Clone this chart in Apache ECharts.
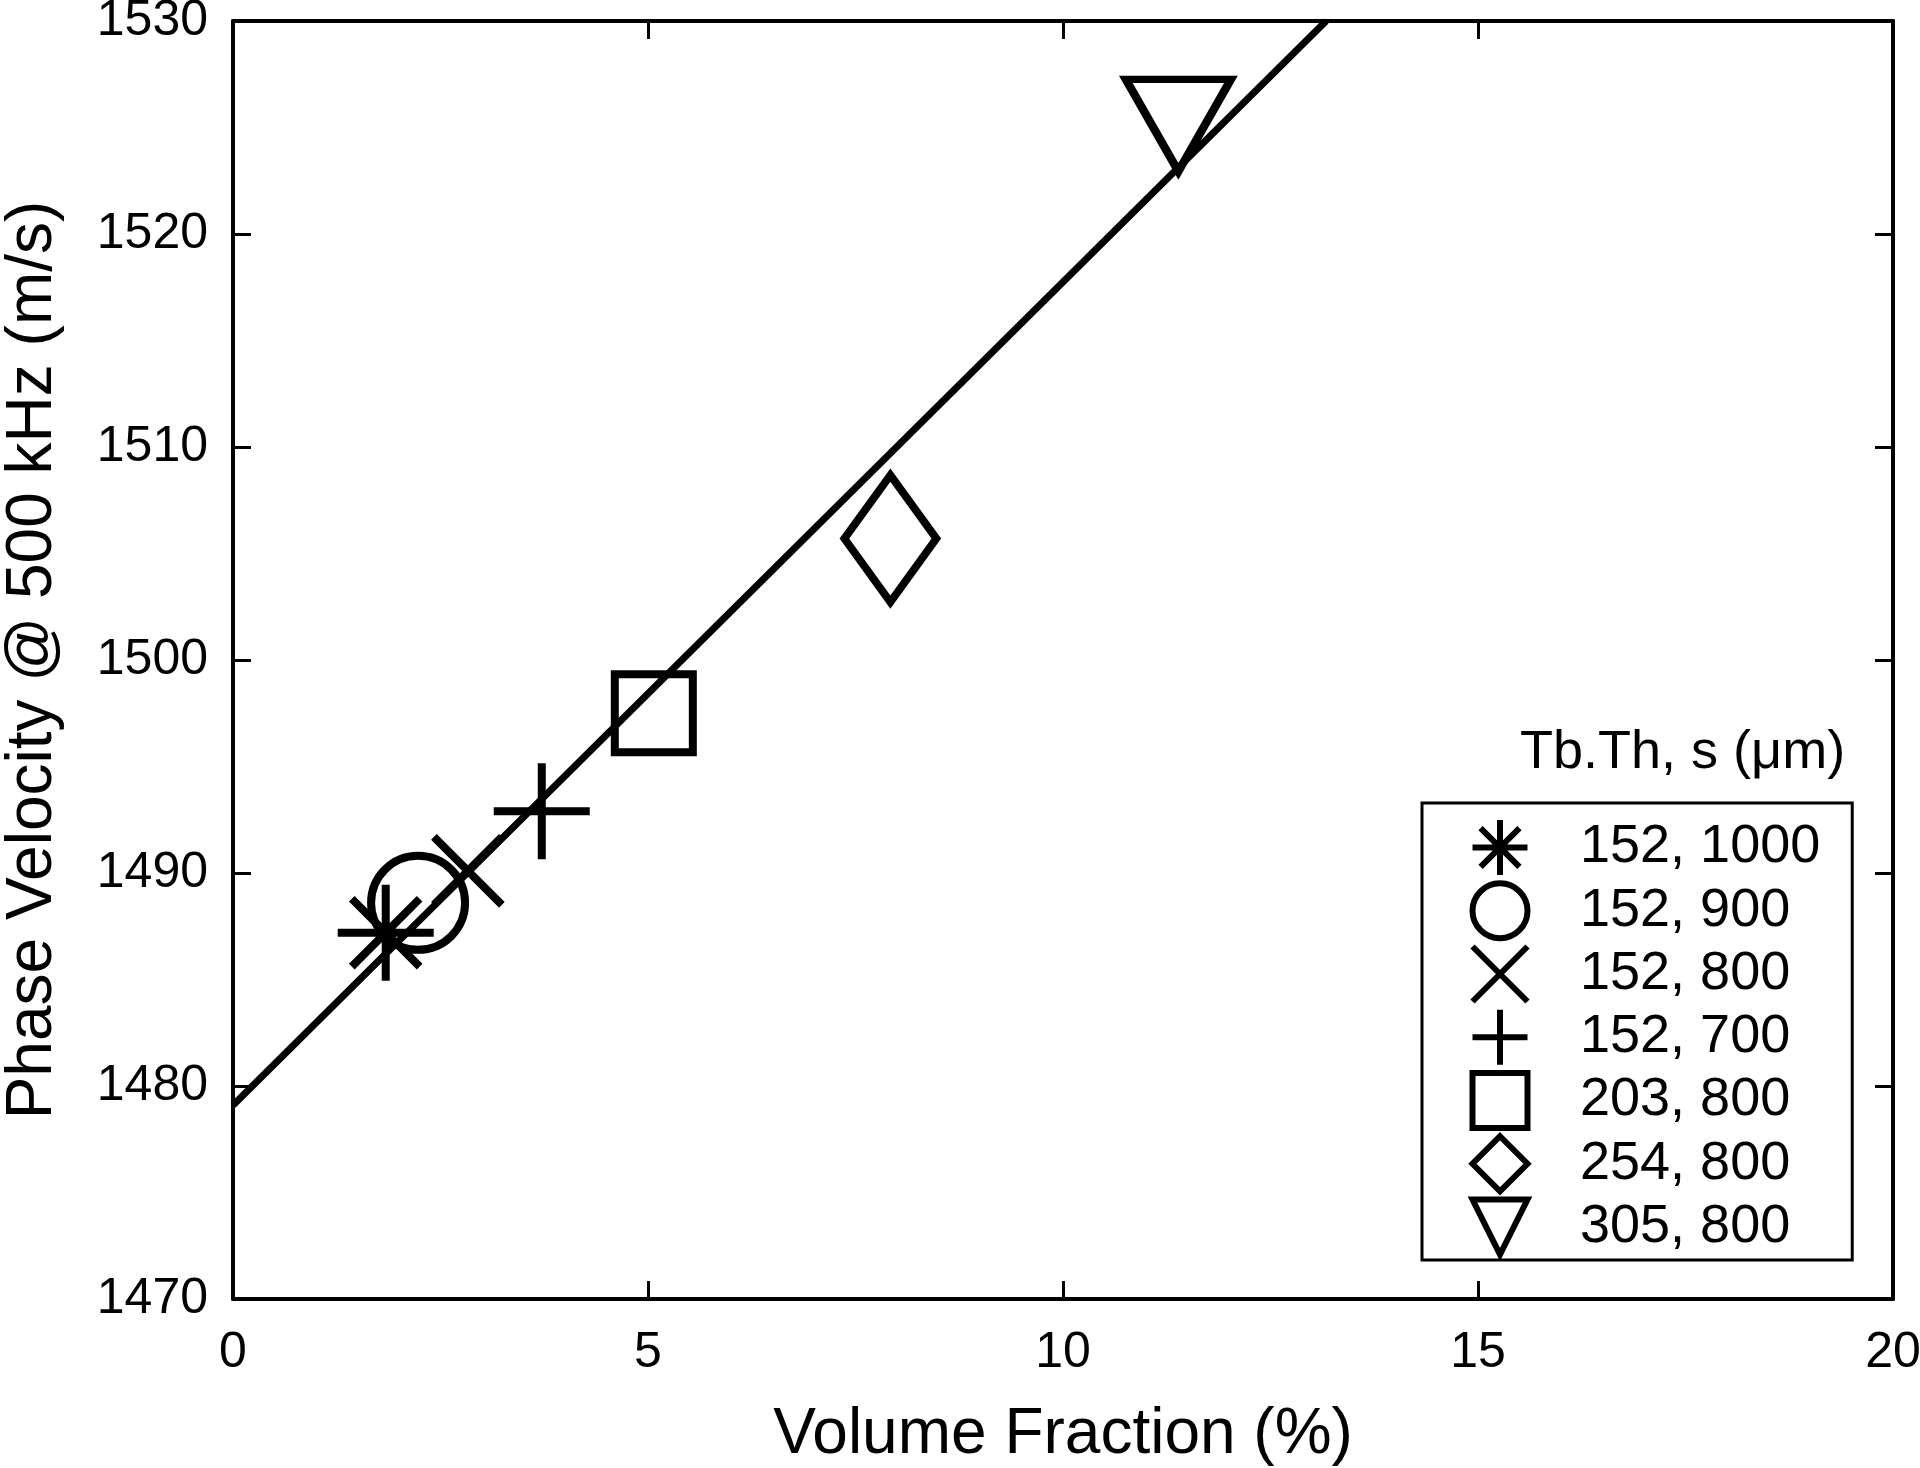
<!DOCTYPE html>
<html><head><meta charset="utf-8">
<script src="https://cdn.jsdelivr.net/npm/echarts@6/dist/echarts.min.js"></script>
<style>html,body{margin:0;padding:0;background:#fff}#c{width:1920px;height:1468px}</style>
</head><body><div id="c"></div>
<script>
// ---- data ----
const seriesNames = ['152, 1000', '152, 900', '152, 800', '152, 700', '203, 800', '254, 800', '305, 800'];
const volumeFraction = [1.84, 2.23, 2.83, 3.72, 5.07, 7.92, 11.39];
const phaseVelocity = [1487.2, 1488.6, 1490.1, 1492.9, 1497.5, 1505.7, 1525.1];
const fitX = [0, 13.17];
const fitY = [1479.1, 1530];
const xTicks = [0, 5, 10, 15, 20];
const yTicks = [1470, 1480, 1490, 1500, 1510, 1520, 1530];
const legendTitle = 'Tb.Th, s (\u03bcm)';
const xTitle = 'Volume Fraction (%)';
const yTitle = 'Phase Velocity @ 500 kHz (m/s)';

// ---- marker styles ----
const symbols = [
  'path://M0,-10L0,10M-10,0L10,0M-7.07,-7.07L7.07,7.07M-7.07,7.07L7.07,-7.07',
  'path://M10,0A10,10,0,1,1,10,20A10,10,0,1,1,10,0Z',
  'path://M-10,-10L10,10M-10,10L10,-10',
  'path://M0,-10L0,10M-10,0L10,0',
  'path://M0,0L20,0L20,20L0,20Z',
  'path://M10,0L20,10L10,20L0,10Z',
  'path://M0,0L20,0L10,20Z'
];
const symbolSizes = [96, 94, 68, 96, 78, [92, 127], [105, 92]];

const FONT = 'Liberation Sans, Arial, Helvetica, sans-serif';
const chart = echarts.init(document.getElementById('c'), null, {renderer: 'canvas'});

const scatterSeries = seriesNames.map((name, i) => ({
  name: name,
  type: 'scatter',
  xAxisIndex: 0, yAxisIndex: 0,
  data: [[volumeFraction[i], phaseVelocity[i]]],
  symbol: symbols[i],
  symbolSize: symbolSizes[i],
  symbolKeepAspect: false,
  itemStyle: {color: 'rgba(0,0,0,0)', borderColor: '#000', borderWidth: 8, opacity: 1},
  emphasis: {disabled: true},
  z: 3
}));

const axisCommon = {
  type: 'value',
  axisLine: {show: true, onZero: false, lineStyle: {color: '#000', width: 4}},
  axisTick: {show: true, inside: true, length: 18, lineStyle: {color: '#000', width: 3}},
  splitLine: {show: false}
};
const plain = v => String(v);

chart.setOption({
  animation: false,
  backgroundColor: '#fff',
  title: {
    text: legendTitle, left: 1520, top: 726, padding: 0,
    textStyle: {fontSize: 54, fontWeight: 'normal', color: '#000', fontFamily: FONT}
  },
  grid: {left: 233, right: 27, top: 21, bottom: 169, containLabel: false, outerBoundsMode: 'none'},
  xAxis: [
    Object.assign({}, axisCommon, {
      position: 'bottom', min: xTicks[0], max: xTicks[xTicks.length - 1], interval: 5,
      axisLabel: {show: true, margin: 29, fontSize: 50, color: '#000', fontFamily: FONT, formatter: plain},
      name: xTitle, nameLocation: 'middle', nameGap: 104,
      nameTextStyle: {fontSize: 64, color: '#000', fontFamily: FONT}
    }),
    Object.assign({}, axisCommon, {
      position: 'top', min: xTicks[0], max: xTicks[xTicks.length - 1], interval: 5,
      axisLabel: {show: false}
    })
  ],
  yAxis: [
    Object.assign({}, axisCommon, {
      position: 'left', min: yTicks[0], max: yTicks[yTicks.length - 1], interval: 10,
      axisLabel: {show: true, margin: 25, fontSize: 50, color: '#000', fontFamily: FONT, formatter: plain},
      name: yTitle, nameLocation: 'middle', nameGap: 168, nameRotate: 90,
      nameTextStyle: {fontSize: 64, color: '#000', fontFamily: FONT}
    }),
    Object.assign({}, axisCommon, {
      position: 'right', min: yTicks[0], max: yTicks[yTicks.length - 1], interval: 10,
      axisLabel: {show: false}
    })
  ],
  legend: {
    orient: 'vertical', left: 1422, top: 803,
    padding: [14, 32, 2.5, 47.5],
    itemWidth: 150, itemHeight: 55, itemGap: 2.25,
    symbolKeepAspect: true,
    selectedMode: false,
    borderColor: '#000', borderWidth: 3, backgroundColor: '#fff',
    itemStyle: {color: 'rgba(0,0,0,0)', borderColor: '#000', borderWidth: 6, opacity: 1},
    textStyle: {fontSize: 54, lineHeight: 55, color: '#000', fontFamily: FONT},
    data: seriesNames
  },
  series: [{
    name: 'fit', type: 'line',
    xAxisIndex: 0, yAxisIndex: 0,
    data: fitX.map((x, i) => [x, fitY[i]]),
    showSymbol: false, symbol: 'none',
    lineStyle: {color: '#000', width: 7},
    clip: true, z: 2,
    emphasis: {disabled: true}
  }].concat(scatterSeries)
});
</script>
</body></html>
